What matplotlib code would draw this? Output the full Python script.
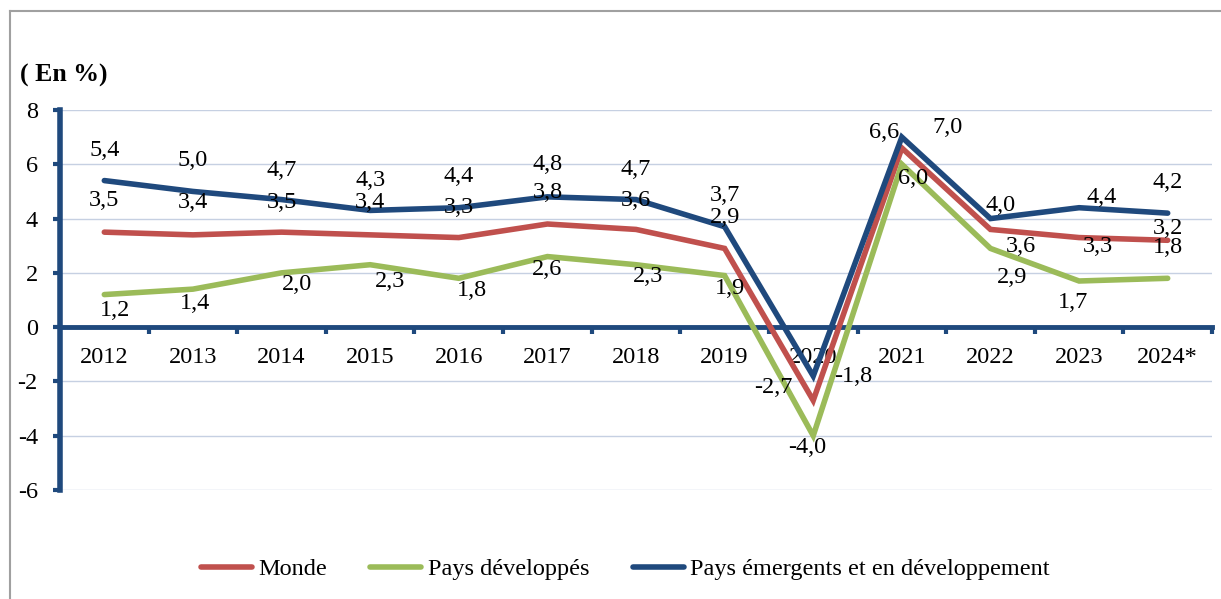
import matplotlib.pyplot as plt
from matplotlib.lines import Line2D
import numpy as np

plt.rcParams['font.family'] = ['Liberation Serif', 'DejaVu Serif']
plt.rcParams['axes.unicode_minus'] = False

# data
years = ['2012', '2013', '2014', '2015', '2016', '2017', '2018', '2019',
         '2020', '2021', '2022', '2023', '2024*']
monde = [3.5, 3.4, 3.5, 3.4, 3.3, 3.8, 3.6, 2.9, -2.7, 6.6, 3.6, 3.3, 3.2]
developpes = [1.2, 1.4, 2.0, 2.3, 1.8, 2.6, 2.3, 1.9, -4.0, 6.0, 2.9, 1.7, 1.8]
emergents = [5.4, 5.0, 4.7, 4.3, 4.4, 4.8, 4.7, 3.7, -1.8, 7.0, 4.0, 4.4, 4.2]

# label offsets in pixels (dx, dy up) -- layout only
off_monde = [(0, 32), (0, 32), (0, 30), (0, 32), (0, 30), (0, 31), (0, 29), (0, 31),
             (-40, 13), (-18, 16), (30, -17), (19, -9), (0, 12)]
off_dev = [(11, -16), (2, -14), (15, -12), (20, -17), (13, -12), (0, -13), (12, -12),
           (5, -13), (-6, -12), (11, -14), (22, -29), (-6, -21), (0, 31)]
off_em = [(0, 30), (0, 31), (0, 29), (0, 30), (0, 31), (0, 32), (0, 30), (0, 31),
          (40, 0), (46, 10), (10, 13), (23, 10), (0, 31)]

c_red = '#C0504D'
c_green = '#9BBB59'
c_blue = '#1F497D'
fs = 17.5

fig = plt.figure(figsize=(12.21, 5.99), dpi=100)
ax = fig.add_axes([60 / 1221, 1 - 490 / 599, (1212 - 60) / 1221, 380 / 599])

x = np.arange(len(years)) + 0.5
series = [(monde, c_red, 'Monde', off_monde),
          (developpes, c_green, 'Pays développés', off_dev),
          (emergents, c_blue, 'Pays émergents et en développement', off_em)]

for vals, col, name, offs in series:
    ax.plot(x, vals, color=col, lw=4.0, label=name, solid_capstyle='round',
            solid_joinstyle='miter', zorder=3)
for vals, col, name, offs in series:
    for xi, v, (dx, dy) in zip(x, vals, offs):
        ax.annotate(f'{v:.1f}'.replace('.', ','), (xi, v), xytext=(dx, dy),
                    textcoords='offset pixels', ha='center', va='center',
                    fontsize=fs, color='black', zorder=5)

ax.set_xlim(0, len(years))
ax.set_ylim(-6, 8)
ax.set_yticks(np.arange(-6, 9, 2))
ax.yaxis.grid(True, color='#C6D0E2', lw=1)
ax.set_axisbelow(True)

for s in ['top', 'right']:
    ax.spines[s].set_visible(False)
ax.spines['bottom'].set_position(('data', 0))
ax.spines['bottom'].set_color(c_blue)
ax.spines['bottom'].set_linewidth(3.5)
ax.spines['bottom'].set_zorder(2)
ax.spines['left'].set_color(c_blue)
ax.spines['left'].set_linewidth(4)

ax.set_xticks(np.arange(1, len(years) + 1))
ax.set_xticklabels([])
ax.set_xticks(x, minor=True)
ax.set_xticklabels(years, minor=True)
ax.tick_params(axis='x', which='major', direction='out', length=5, width=3, color=c_blue)
ax.tick_params(axis='x', which='minor', length=0, pad=14, labelsize=fs)
ax.tick_params(axis='y', direction='out', length=5, width=3, color=c_blue,
               pad=11, labelsize=fs)

fig.text(20 / 1221, 1 - 75 / 599, '( En %)', fontsize=18.5, fontweight='bold',
         ha='left', va='center')

fig.legend(loc='center', bbox_to_anchor=(0.512, 0.05), ncol=3, frameon=False,
           fontsize=fs, handlelength=2.1, handletextpad=0.25, columnspacing=1.8)

# outer frame
fig.add_artist(Line2D([10 / 1221, 10 / 1221], [0, 1 - 11 / 599], color='#A0A0A0', lw=1.5,
                      transform=fig.transFigure))
fig.add_artist(Line2D([10 / 1221, 1], [1 - 11 / 599, 1 - 11 / 599], color='#A0A0A0', lw=1.5,
                      transform=fig.transFigure))

fig.savefig('out.png', dpi=100)
